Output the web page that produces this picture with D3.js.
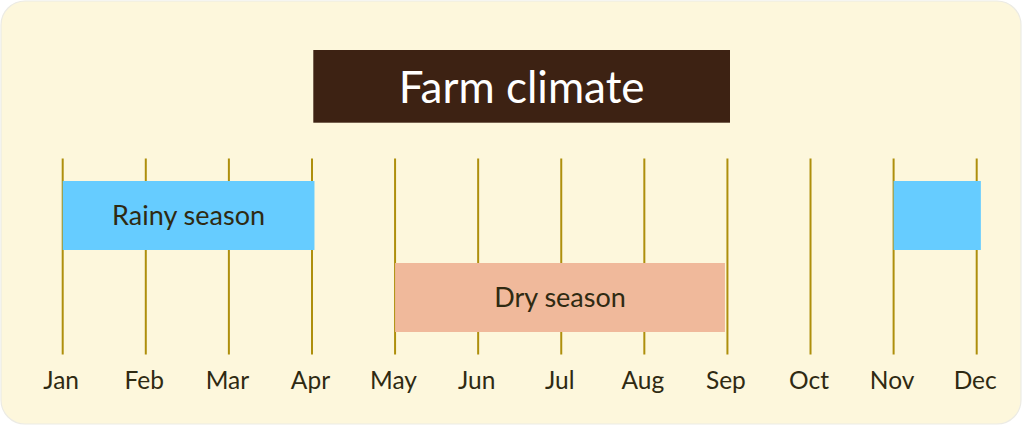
<!DOCTYPE html>
<html>
<head>
<meta charset="utf-8">
<script src="https://cdn.jsdelivr.net/npm/d3@7"></script>
<style>
  html, body { margin: 0; padding: 0; background: #ffffff; }
  svg { display: block; }
</style>
</head>
<body>
<svg id="chart" width="1024" height="426"></svg>
<script>
// ---- data ----
const title = "Farm climate";
const months = ["Jan", "Feb", "Mar", "Apr", "May", "Jun", "Jul", "Aug", "Sep", "Oct", "Nov", "Dec"];
// season periods in month-index units (0 = Jan)
const seasonNames = ["Rainy season", "Dry season", ""];
const seasonStart = [0, 4, 10];
const seasonEnd = [3.03, 7.97, 11.05];
const seasonRow = ["rainy", "dry", "rainy"];
const seasonColors = { rainy: "#66ccff", dry: "#f0b99b" };

// ---- layout ----
const svg = d3.select("#chart");
const W = 1024, H = 426;
const fontFam = "Lato, 'Open Sans', sans-serif";

svg.append("rect")
  .attr("x", 1).attr("y", 1).attr("width", W - 4).attr("height", H - 3)
  .attr("rx", 24).attr("ry", 24)
  .attr("fill", "#fdf7dc")
  .attr("stroke", "#ecebe4").attr("stroke-width", 1.2);

const x = d3.scaleLinear().domain([0, 11]).range([62.7, 976.7]);
const y = d3.scaleBand().domain(["rainy", "dry"]).range([181, 332]).paddingInner(13 / 82).paddingOuter(0);

// title box
const tb = svg.append("g");
tb.append("rect").attr("x", 313.3).attr("y", 50).attr("width", 416.7).attr("height", 72.7)
  .attr("fill", "#3d2213");
tb.append("text").attr("x", 521.7).attr("y", 103)
  .attr("text-anchor", "middle").attr("fill", "#ffffff")
  .style("font-family", fontFam).style("font-size", "44px").text(title);

// grid lines
svg.append("g").selectAll("line").data(months).join("line")
  .attr("x1", (d, i) => x(i)).attr("x2", (d, i) => x(i))
  .attr("y1", 158.5).attr("y2", 354.5)
  .attr("stroke", "#ae8f0c").attr("stroke-width", 2);

// month labels
svg.append("g").selectAll("text").data(months).join("text")
  .attr("x", (d, i) => x(i) - 1.5).attr("y", 389.3)
  .attr("text-anchor", "middle").attr("fill", "#2f2a12")
  .style("font-family", fontFam).style("font-size", "24.5px")
  .text(d => d);

// season bars
const bars = svg.append("g").selectAll("g").data(seasonNames).join("g");
bars.append("rect")
  .attr("x", (d, i) => x(seasonStart[i]))
  .attr("width", (d, i) => x(seasonEnd[i]) - x(seasonStart[i]))
  .attr("y", (d, i) => y(seasonRow[i]))
  .attr("height", y.bandwidth())
  .attr("fill", (d, i) => seasonColors[seasonRow[i]]);
bars.append("text")
  .attr("x", (d, i) => (x(seasonStart[i]) + x(seasonEnd[i])) / 2)
  .attr("y", (d, i) => y(seasonRow[i]) + y.bandwidth() / 2 + 9.5)
  .attr("text-anchor", "middle").attr("fill", "#2f2a12")
  .style("font-family", fontFam).style("font-size", "27px")
  .text(d => d);
</script>
</body>
</html>
